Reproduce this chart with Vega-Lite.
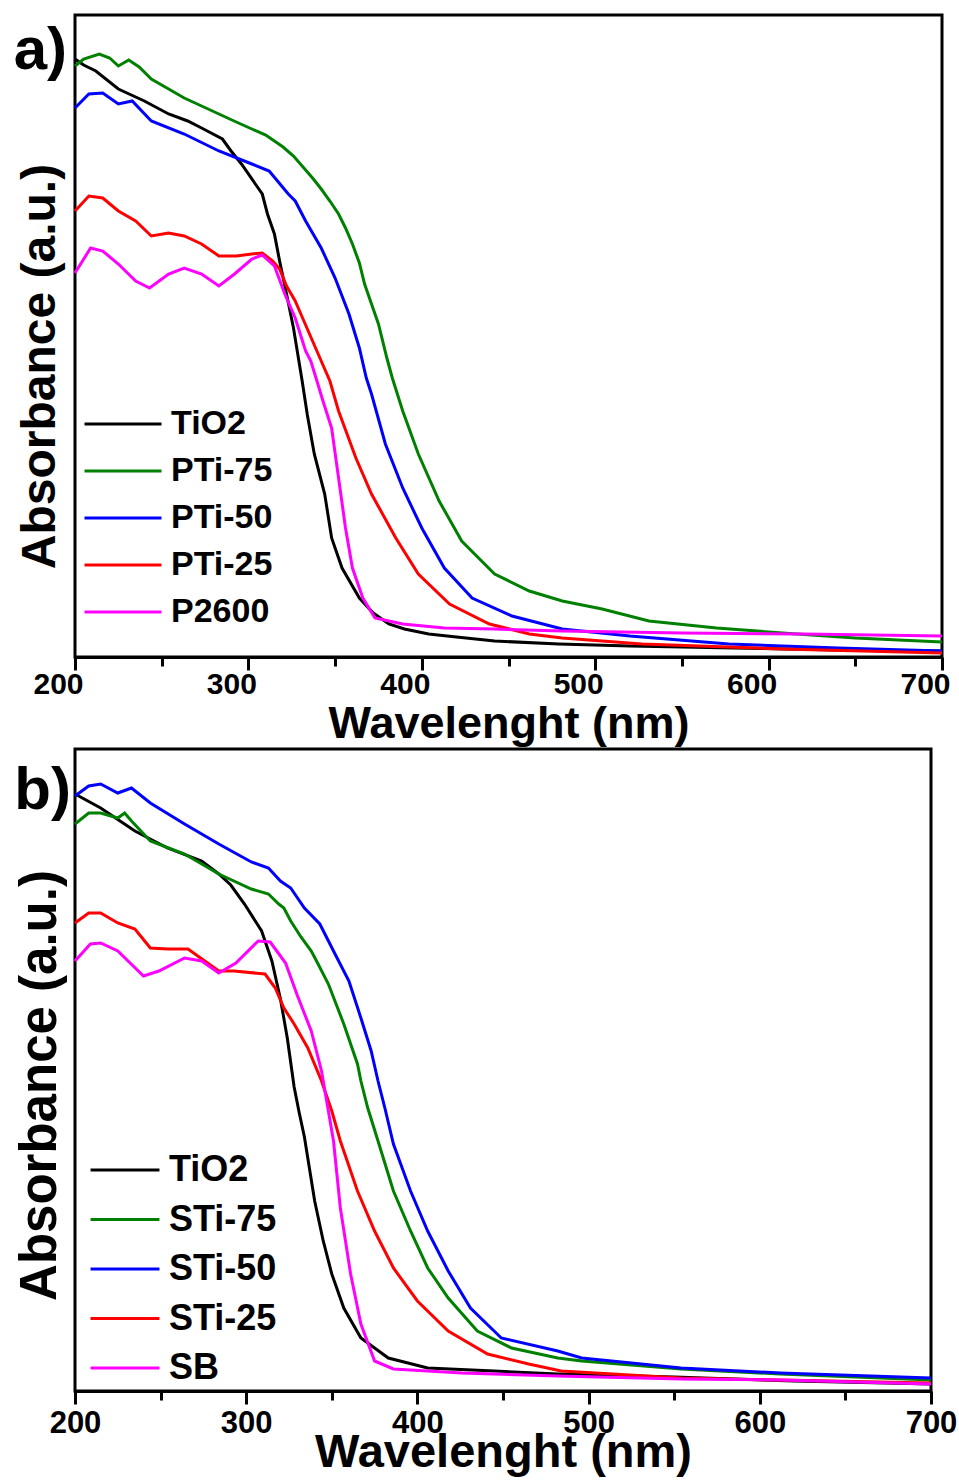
{
  "$schema": "https://vega.github.io/schema/vega-lite/v6.json",
  "background": "white",
  "padding": {"left": 12, "top": 13, "right": 0, "bottom": 0},
  "spacing": -1,
  "config": {
    "view": {"stroke": "#000", "strokeWidth": 3},
    "font": "Liberation Sans"
  },
  "datasets": {
    "a": [
      {"s":"TiO2","w":200,"v":2.99},{"s":"TiO2","w":205,"v":2.96},{"s":"TiO2","w":212,"v":2.93},{"s":"TiO2","w":225,"v":2.84},{"s":"TiO2","w":240,"v":2.78},{"s":"TiO2","w":254,"v":2.715},{"s":"TiO2","w":265,"v":2.68},{"s":"TiO2","w":273,"v":2.645},{"s":"TiO2","w":285,"v":2.59},{"s":"TiO2","w":290,"v":2.53},{"s":"TiO2","w":296,"v":2.465},{"s":"TiO2","w":304,"v":2.365},{"s":"TiO2","w":308,"v":2.315},{"s":"TiO2","w":311,"v":2.215},{"s":"TiO2","w":315,"v":2.115},{"s":"TiO2","w":318,"v":1.98},{"s":"TiO2","w":322,"v":1.815},{"s":"TiO2","w":326,"v":1.645},{"s":"TiO2","w":331,"v":1.38},{"s":"TiO2","w":334,"v":1.21},{"s":"TiO2","w":338,"v":1.015},{"s":"TiO2","w":344,"v":0.815},{"s":"TiO2","w":348,"v":0.595},{"s":"TiO2","w":354,"v":0.445},{"s":"TiO2","w":364,"v":0.295},{"s":"TiO2","w":372,"v":0.22},{"s":"TiO2","w":381,"v":0.165},{"s":"TiO2","w":390,"v":0.14},{"s":"TiO2","w":404,"v":0.115},{"s":"TiO2","w":420,"v":0.1},{"s":"TiO2","w":442,"v":0.08},{"s":"TiO2","w":479,"v":0.065},{"s":"TiO2","w":520,"v":0.055},{"s":"TiO2","w":580,"v":0.045},{"s":"TiO2","w":640,"v":0.035},{"s":"TiO2","w":700,"v":0.03},
      {"s":"PTi-75","w":200,"v":2.955},{"s":"PTi-75","w":205,"v":2.99},{"s":"PTi-75","w":214,"v":3.015},{"s":"PTi-75","w":220,"v":2.995},{"s":"PTi-75","w":225,"v":2.955},{"s":"PTi-75","w":231,"v":2.985},{"s":"PTi-75","w":237,"v":2.95},{"s":"PTi-75","w":244,"v":2.89},{"s":"PTi-75","w":253,"v":2.845},{"s":"PTi-75","w":263,"v":2.795},{"s":"PTi-75","w":273,"v":2.755},{"s":"PTi-75","w":283,"v":2.715},{"s":"PTi-75","w":293,"v":2.675},{"s":"PTi-75","w":302,"v":2.64},{"s":"PTi-75","w":310,"v":2.61},{"s":"PTi-75","w":315,"v":2.58},{"s":"PTi-75","w":320,"v":2.55},{"s":"PTi-75","w":326,"v":2.505},{"s":"PTi-75","w":332,"v":2.445},{"s":"PTi-75","w":337,"v":2.395},{"s":"PTi-75","w":342,"v":2.34},{"s":"PTi-75","w":347,"v":2.28},{"s":"PTi-75","w":352,"v":2.215},{"s":"PTi-75","w":356,"v":2.145},{"s":"PTi-75","w":360,"v":2.065},{"s":"PTi-75","w":364,"v":1.97},{"s":"PTi-75","w":367,"v":1.865},{"s":"PTi-75","w":371,"v":1.765},{"s":"PTi-75","w":375,"v":1.665},{"s":"PTi-75","w":380,"v":1.49},{"s":"PTi-75","w":383,"v":1.395},{"s":"PTi-75","w":389,"v":1.23},{"s":"PTi-75","w":398,"v":1.015},{"s":"PTi-75","w":410,"v":0.78},{"s":"PTi-75","w":423,"v":0.58},{"s":"PTi-75","w":442,"v":0.415},{"s":"PTi-75","w":462,"v":0.33},{"s":"PTi-75","w":481,"v":0.28},{"s":"PTi-75","w":504,"v":0.24},{"s":"PTi-75","w":531,"v":0.18},{"s":"PTi-75","w":570,"v":0.145},{"s":"PTi-75","w":608,"v":0.12},{"s":"PTi-75","w":650,"v":0.095},{"s":"PTi-75","w":700,"v":0.075},
      {"s":"PTi-50","w":200,"v":2.745},{"s":"PTi-50","w":208,"v":2.815},{"s":"PTi-50","w":216,"v":2.82},{"s":"PTi-50","w":225,"v":2.765},{"s":"PTi-50","w":233,"v":2.78},{"s":"PTi-50","w":244,"v":2.68},{"s":"PTi-50","w":263,"v":2.615},{"s":"PTi-50","w":283,"v":2.53},{"s":"PTi-50","w":302,"v":2.465},{"s":"PTi-50","w":312,"v":2.43},{"s":"PTi-50","w":323,"v":2.315},{"s":"PTi-50","w":327,"v":2.28},{"s":"PTi-50","w":333,"v":2.18},{"s":"PTi-50","w":342,"v":2.045},{"s":"PTi-50","w":350,"v":1.895},{"s":"PTi-50","w":358,"v":1.715},{"s":"PTi-50","w":364,"v":1.545},{"s":"PTi-50","w":368,"v":1.395},{"s":"PTi-50","w":371,"v":1.315},{"s":"PTi-50","w":379,"v":1.065},{"s":"PTi-50","w":389,"v":0.845},{"s":"PTi-50","w":400,"v":0.645},{"s":"PTi-50","w":413,"v":0.445},{"s":"PTi-50","w":429,"v":0.295},{"s":"PTi-50","w":452,"v":0.205},{"s":"PTi-50","w":481,"v":0.14},{"s":"PTi-50","w":520,"v":0.105},{"s":"PTi-50","w":577,"v":0.065},{"s":"PTi-50","w":640,"v":0.045},{"s":"PTi-50","w":700,"v":0.03},
      {"s":"PTi-25","w":200,"v":2.23},{"s":"PTi-25","w":208,"v":2.305},{"s":"PTi-25","w":216,"v":2.295},{"s":"PTi-25","w":225,"v":2.23},{"s":"PTi-25","w":235,"v":2.18},{"s":"PTi-25","w":244,"v":2.105},{"s":"PTi-25","w":254,"v":2.12},{"s":"PTi-25","w":263,"v":2.105},{"s":"PTi-25","w":273,"v":2.065},{"s":"PTi-25","w":283,"v":2.005},{"s":"PTi-25","w":293,"v":2.005},{"s":"PTi-25","w":302,"v":2.015},{"s":"PTi-25","w":308,"v":2.02},{"s":"PTi-25","w":314,"v":1.98},{"s":"PTi-25","w":318,"v":1.94},{"s":"PTi-25","w":322,"v":1.855},{"s":"PTi-25","w":327,"v":1.78},{"s":"PTi-25","w":330,"v":1.72},{"s":"PTi-25","w":337,"v":1.58},{"s":"PTi-25","w":342,"v":1.48},{"s":"PTi-25","w":347,"v":1.38},{"s":"PTi-25","w":352,"v":1.23},{"s":"PTi-25","w":362,"v":0.995},{"s":"PTi-25","w":371,"v":0.815},{"s":"PTi-25","w":385,"v":0.595},{"s":"PTi-25","w":398,"v":0.415},{"s":"PTi-25","w":416,"v":0.265},{"s":"PTi-25","w":439,"v":0.165},{"s":"PTi-25","w":462,"v":0.115},{"s":"PTi-25","w":481,"v":0.095},{"s":"PTi-25","w":527,"v":0.065},{"s":"PTi-25","w":608,"v":0.04},{"s":"PTi-25","w":700,"v":0.02},
      {"s":"P2600","w":200,"v":1.92},{"s":"P2600","w":209,"v":2.045},{"s":"P2600","w":216,"v":2.03},{"s":"P2600","w":225,"v":1.965},{"s":"P2600","w":235,"v":1.88},{"s":"P2600","w":243,"v":1.845},{"s":"P2600","w":254,"v":1.915},{"s":"P2600","w":263,"v":1.945},{"s":"P2600","w":273,"v":1.915},{"s":"P2600","w":283,"v":1.855},{"s":"P2600","w":292,"v":1.915},{"s":"P2600","w":302,"v":1.99},{"s":"P2600","w":308,"v":2.01},{"s":"P2600","w":315,"v":1.955},{"s":"P2600","w":321,"v":1.815},{"s":"P2600","w":327,"v":1.695},{"s":"P2600","w":333,"v":1.53},{"s":"P2600","w":336,"v":1.48},{"s":"P2600","w":339,"v":1.395},{"s":"P2600","w":343,"v":1.28},{"s":"P2600","w":348,"v":1.145},{"s":"P2600","w":352,"v":0.895},{"s":"P2600","w":356,"v":0.645},{"s":"P2600","w":360,"v":0.445},{"s":"P2600","w":366,"v":0.295},{"s":"P2600","w":373,"v":0.195},{"s":"P2600","w":389,"v":0.165},{"s":"P2600","w":413,"v":0.145},{"s":"P2600","w":442,"v":0.14},{"s":"P2600","w":481,"v":0.13},{"s":"P2600","w":550,"v":0.12},{"s":"P2600","w":620,"v":0.115},{"s":"P2600","w":700,"v":0.105}
    ],
    "b": [
      {"s":"TiO2","w":200,"v":2.985},{"s":"TiO2","w":215,"v":2.915},{"s":"TiO2","w":235,"v":2.8},{"s":"TiO2","w":254,"v":2.715},{"s":"TiO2","w":274,"v":2.65},{"s":"TiO2","w":284,"v":2.585},{"s":"TiO2","w":291,"v":2.53},{"s":"TiO2","w":299,"v":2.435},{"s":"TiO2","w":309,"v":2.3},{"s":"TiO2","w":315,"v":2.15},{"s":"TiO2","w":320,"v":1.96},{"s":"TiO2","w":324,"v":1.765},{"s":"TiO2","w":328,"v":1.52},{"s":"TiO2","w":331,"v":1.39},{"s":"TiO2","w":334,"v":1.27},{"s":"TiO2","w":340,"v":0.95},{"s":"TiO2","w":345,"v":0.75},{"s":"TiO2","w":350,"v":0.585},{"s":"TiO2","w":357,"v":0.415},{"s":"TiO2","w":367,"v":0.265},{"s":"TiO2","w":383,"v":0.165},{"s":"TiO2","w":406,"v":0.115},{"s":"TiO2","w":445,"v":0.1},{"s":"TiO2","w":482,"v":0.085},{"s":"TiO2","w":550,"v":0.07},{"s":"TiO2","w":620,"v":0.05},{"s":"TiO2","w":700,"v":0.035},
      {"s":"STi-75","w":200,"v":2.835},{"s":"STi-75","w":208,"v":2.89},{"s":"STi-75","w":215,"v":2.89},{"s":"STi-75","w":225,"v":2.865},{"s":"STi-75","w":229,"v":2.89},{"s":"STi-75","w":233,"v":2.85},{"s":"STi-75","w":244,"v":2.75},{"s":"STi-75","w":264,"v":2.685},{"s":"STi-75","w":284,"v":2.585},{"s":"STi-75","w":303,"v":2.51},{"s":"STi-75","w":313,"v":2.485},{"s":"STi-75","w":319,"v":2.435},{"s":"STi-75","w":322,"v":2.415},{"s":"STi-75","w":326,"v":2.35},{"s":"STi-75","w":332,"v":2.27},{"s":"STi-75","w":338,"v":2.2},{"s":"STi-75","w":342,"v":2.135},{"s":"STi-75","w":348,"v":2.035},{"s":"STi-75","w":357,"v":1.835},{"s":"STi-75","w":365,"v":1.635},{"s":"STi-75","w":367,"v":1.55},{"s":"STi-75","w":371,"v":1.415},{"s":"STi-75","w":377,"v":1.25},{"s":"STi-75","w":386,"v":1.0},{"s":"STi-75","w":396,"v":0.8},{"s":"STi-75","w":406,"v":0.615},{"s":"STi-75","w":418,"v":0.465},{"s":"STi-75","w":435,"v":0.3},{"s":"STi-75","w":455,"v":0.215},{"s":"STi-75","w":482,"v":0.165},{"s":"STi-75","w":496,"v":0.15},{"s":"STi-75","w":554,"v":0.11},{"s":"STi-75","w":612,"v":0.085},{"s":"STi-75","w":700,"v":0.055},
      {"s":"STi-50","w":200,"v":2.975},{"s":"STi-50","w":208,"v":3.025},{"s":"STi-50","w":215,"v":3.035},{"s":"STi-50","w":225,"v":2.99},{"s":"STi-50","w":233,"v":3.015},{"s":"STi-50","w":244,"v":2.94},{"s":"STi-50","w":264,"v":2.835},{"s":"STi-50","w":284,"v":2.735},{"s":"STi-50","w":303,"v":2.645},{"s":"STi-50","w":313,"v":2.615},{"s":"STi-50","w":320,"v":2.55},{"s":"STi-50","w":326,"v":2.515},{"s":"STi-50","w":334,"v":2.415},{"s":"STi-50","w":343,"v":2.335},{"s":"STi-50","w":351,"v":2.2},{"s":"STi-50","w":360,"v":2.05},{"s":"STi-50","w":367,"v":1.865},{"s":"STi-50","w":373,"v":1.7},{"s":"STi-50","w":377,"v":1.55},{"s":"STi-50","w":381,"v":1.415},{"s":"STi-50","w":386,"v":1.235},{"s":"STi-50","w":396,"v":1.0},{"s":"STi-50","w":406,"v":0.8},{"s":"STi-50","w":418,"v":0.6},{"s":"STi-50","w":431,"v":0.415},{"s":"STi-50","w":449,"v":0.265},{"s":"STi-50","w":482,"v":0.2},{"s":"STi-50","w":496,"v":0.165},{"s":"STi-50","w":554,"v":0.115},{"s":"STi-50","w":612,"v":0.09},{"s":"STi-50","w":700,"v":0.065},
      {"s":"STi-25","w":200,"v":2.34},{"s":"STi-25","w":208,"v":2.39},{"s":"STi-25","w":215,"v":2.39},{"s":"STi-25","w":225,"v":2.34},{"s":"STi-25","w":235,"v":2.31},{"s":"STi-25","w":244,"v":2.215},{"s":"STi-25","w":254,"v":2.21},{"s":"STi-25","w":266,"v":2.21},{"s":"STi-25","w":284,"v":2.1},{"s":"STi-25","w":293,"v":2.1},{"s":"STi-25","w":311,"v":2.085},{"s":"STi-25","w":317,"v":2.015},{"s":"STi-25","w":322,"v":1.915},{"s":"STi-25","w":328,"v":1.835},{"s":"STi-25","w":336,"v":1.715},{"s":"STi-25","w":344,"v":1.55},{"s":"STi-25","w":350,"v":1.4},{"s":"STi-25","w":355,"v":1.25},{"s":"STi-25","w":365,"v":1.0},{"s":"STi-25","w":375,"v":0.8},{"s":"STi-25","w":386,"v":0.615},{"s":"STi-25","w":400,"v":0.45},{"s":"STi-25","w":418,"v":0.3},{"s":"STi-25","w":441,"v":0.185},{"s":"STi-25","w":465,"v":0.135},{"s":"STi-25","w":484,"v":0.1},{"s":"STi-25","w":554,"v":0.065},{"s":"STi-25","w":612,"v":0.055},{"s":"STi-25","w":700,"v":0.04},
      {"s":"SB","w":200,"v":2.15},{"s":"SB","w":209,"v":2.235},{"s":"SB","w":215,"v":2.24},{"s":"SB","w":225,"v":2.2},{"s":"SB","w":240,"v":2.075},{"s":"SB","w":249,"v":2.1},{"s":"SB","w":264,"v":2.165},{"s":"SB","w":274,"v":2.15},{"s":"SB","w":284,"v":2.09},{"s":"SB","w":294,"v":2.14},{"s":"SB","w":307,"v":2.25},{"s":"SB","w":314,"v":2.245},{"s":"SB","w":323,"v":2.14},{"s":"SB","w":330,"v":1.975},{"s":"SB","w":338,"v":1.8},{"s":"SB","w":344,"v":1.6},{"s":"SB","w":348,"v":1.4},{"s":"SB","w":351,"v":1.25},{"s":"SB","w":355,"v":0.915},{"s":"SB","w":361,"v":0.585},{"s":"SB","w":367,"v":0.335},{"s":"SB","w":375,"v":0.15},{"s":"SB","w":386,"v":0.11},{"s":"SB","w":426,"v":0.09},{"s":"SB","w":482,"v":0.075},{"s":"SB","w":554,"v":0.06},{"s":"SB","w":612,"v":0.055},{"s":"SB","w":700,"v":0.035}
    ]
  },
  "vconcat": [
    {
      "width": 867,
      "height": 642,
      "layer": [
        {
          "data": {"name": "a"},
          "mark": {"type": "line", "strokeWidth": 3},
          "encoding": {
            "x": {"field": "w", "type": "quantitative",
              "scale": {"domain": [200, 700], "nice": false, "zero": false},
              "axis": {"title": "Wavelenght (nm)", "titleFontSize": 45, "titleFontWeight": "bold", "titleColor": "#000", "titlePadding": 2,
                "values": [200, 250, 300, 350, 400, 450, 500, 550, 600, 650, 700],
                "labelExpr": "datum.value % 100 === 0 ? datum.label : ''",
                "tickSize": {"condition": {"test": "datum.value % 100 === 0", "value": 13}, "value": 9},
                "tickWidth": 3, "tickColor": "#000", "domainWidth": 3, "domainColor": "#000",
                "labelFontSize": 30, "labelFontWeight": "bold", "labelColor": "#000", "labelPadding": -1, "labelOffset": -17,
                "grid": false, "labelFlush": false, "labelOverlap": false}},
            "y": {"field": "v", "type": "quantitative",
              "scale": {"domain": [0, 3.21], "nice": false, "zero": false},
              "axis": {"title": "Absorbance (a.u.)", "titleFontSize": 48, "titleFontWeight": "bold", "titleColor": "#000", "titleX": -11, "titleY": 351, "titleAngle": 270, "titleBaseline": "bottom", "titleAlign": "center",
                "ticks": false, "labels": false, "domain": false, "grid": false}},
            "color": {"field": "s", "type": "nominal",
              "scale": {"domain": ["TiO2", "PTi-75", "PTi-50", "PTi-25", "P2600"], "range": ["#000000", "#008000", "#0000ff", "#ff0000", "#ff00ff"]},
              "legend": {"title": null, "orient": "none", "legendX": 13, "legendY": 392, "symbolType": "M-5,0H5", "symbolSize": 237, "symbolStrokeWidth": 3, "symbolOffset": 18, "labelOffset": 31, "labelFontSize": 34, "labelFontWeight": "bold", "labelColor": "#000", "rowPadding": 13, "padding": 0, "labelLimit": 0}}
          }
        },
        {
          "data": {"values": [{"t": "a)"}]},
          "mark": {"type": "text", "align": "right", "baseline": "alphabetic", "dx": -8, "dy": 54, "fontSize": 60, "fontWeight": "bold", "color": "#000"},
          "encoding": {
            "x": {"datum": 200, "type": "quantitative"},
            "y": {"datum": 3.21, "type": "quantitative"},
            "text": {"field": "t"}
          }
        }
      ]
    },
    {
      "width": 856,
      "height": 642,
      "layer": [
        {
          "data": {"name": "b"},
          "mark": {"type": "line", "strokeWidth": 3},
          "encoding": {
            "x": {"field": "w", "type": "quantitative",
              "scale": {"domain": [200, 700], "nice": false, "zero": false},
              "axis": {"title": "Wavelenght (nm)", "titleFontSize": 47, "titleFontWeight": "bold", "titleColor": "#000", "titlePadding": -9,
                "values": [200, 250, 300, 350, 400, 450, 500, 550, 600, 650, 700],
                "labelExpr": "datum.value % 100 === 0 ? datum.label : ''",
                "tickSize": {"condition": {"test": "datum.value % 100 === 0", "value": 13}, "value": 9},
                "tickWidth": 3, "tickColor": "#000", "domainWidth": 3, "domainColor": "#000",
                "labelFontSize": 31, "labelFontWeight": "bold", "labelColor": "#000", "labelPadding": 4,
                "grid": false, "labelFlush": false, "labelOverlap": false}},
            "y": {"field": "v", "type": "quantitative",
              "scale": {"domain": [0, 3.21], "nice": false, "zero": false},
              "axis": {"title": "Absorbance (a.u.)", "titleFontSize": 51, "titleFontWeight": "bold", "titleColor": "#000", "titleX": -9, "titleY": 336, "titleAngle": 270, "titleBaseline": "bottom", "titleAlign": "center",
                "ticks": false, "labels": false, "domain": false, "grid": false}},
            "color": {"field": "s", "type": "nominal",
              "scale": {"domain": ["TiO2", "STi-75", "STi-50", "STi-25", "SB"], "range": ["#000000", "#008000", "#0000ff", "#ff0000", "#ff00ff"]},
              "legend": {"title": null, "orient": "none", "legendX": 16, "legendY": 403, "symbolType": "M-5,0H5", "symbolSize": 190, "symbolStrokeWidth": 3, "symbolOffset": 16, "labelOffset": 26, "labelFontSize": 36, "labelFontWeight": "bold", "labelColor": "#000", "rowPadding": 13.5, "padding": 0, "labelLimit": 0}}
          }
        },
        {
          "data": {"values": [{"t": "b)"}]},
          "mark": {"type": "text", "align": "right", "baseline": "alphabetic", "dx": -4, "dy": 60, "fontSize": 60, "fontWeight": "bold", "color": "#000"},
          "encoding": {
            "x": {"datum": 200, "type": "quantitative"},
            "y": {"datum": 3.21, "type": "quantitative"},
            "text": {"field": "t"}
          }
        }
      ]
    }
  ],
  "resolve": {"scale": {"color": "independent"}, "legend": {"color": "independent"}}
}
